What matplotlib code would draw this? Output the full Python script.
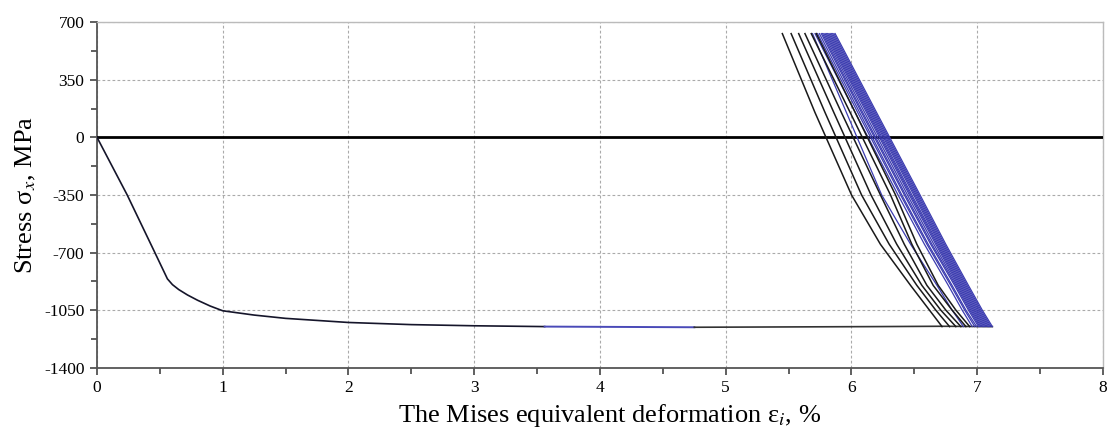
import matplotlib
matplotlib.use("Agg")
import matplotlib.pyplot as plt
from matplotlib.ticker import MultipleLocator

# monotonic loading branch (strain %, stress MPa)
load_strain = [0.0, 0.24, 0.46, 0.56, 0.60, 0.65, 0.72, 0.80, 0.90, 1.0, 1.25, 1.5, 2.0, 2.5, 3.0, 3.56]
load_stress = [0, -350, -700, -860, -895, -925, -958, -990, -1025, -1054, -1080, -1100, -1125, -1138, -1145, -1150]
plateau_blue_strain = [3.56, 4.75]
plateau_blue_stress = [-1150, -1154]
plateau_end_strain = [4.75, 5.5, 6.2, 6.72, 7.12]
plateau_end_stress = [-1154, -1152, -1150, -1148, -1150]

# cycle lines: strain at these stress levels, one row per cycle
cycle_stress = [630, 150, -350, -650, -900, -1050, -1150]
cycles_black = [
    [5.45, 5.71, 6.00, 6.23, 6.47, 6.62, 6.72],
    [5.52, 5.79, 6.08, 6.30, 6.52, 6.67, 6.78],
    [5.58, 5.86, 6.155, 6.36, 6.56, 6.71, 6.83],
    [5.63, 5.92, 6.23, 6.42, 6.60, 6.75, 6.87],
    [5.68, 5.99, 6.31, 6.48, 6.65, 6.80, 6.91],
    [5.72, 6.03, 6.35, 6.52, 6.69, 6.83, 6.94],
]
cycles_blue = [
    [5.69, 5.96, 6.24, 6.47, 6.68, 6.80, 6.89],
    [5.71, 6.03, 6.37, 6.58, 6.77, 6.88, 6.96],
    [5.73, 6.05, 6.39, 6.60, 6.79, 6.90, 6.98],
    [5.745, 6.065, 6.40, 6.61, 6.80, 6.91, 6.995],
    [5.76, 6.08, 6.42, 6.63, 6.82, 6.93, 7.01],
    [5.77, 6.09, 6.43, 6.64, 6.83, 6.94, 7.02],
    [5.78, 6.105, 6.445, 6.655, 6.84, 6.95, 7.03],
    [5.79, 6.12, 6.46, 6.67, 6.85, 6.96, 7.04],
    [5.80, 6.13, 6.47, 6.68, 6.86, 6.97, 7.05],
    [5.81, 6.14, 6.48, 6.69, 6.87, 6.98, 7.06],
    [5.82, 6.15, 6.495, 6.70, 6.88, 6.99, 7.07],
    [5.83, 6.16, 6.505, 6.71, 6.89, 7.00, 7.08],
    [5.84, 6.17, 6.515, 6.72, 6.90, 7.01, 7.09],
    [5.85, 6.18, 6.525, 6.73, 6.91, 7.02, 7.10],
    [5.86, 6.19, 6.535, 6.74, 6.92, 7.03, 7.11],
    [5.87, 6.20, 6.545, 6.75, 6.93, 7.04, 7.12],
]

plt.rcParams['font.family'] = ['Liberation Serif', 'DejaVu Serif']
plt.rcParams['mathtext.fontset'] = 'stix'
plt.rcParams['axes.unicode_minus'] = False

fig = plt.figure(figsize=(11.11, 4.42), dpi=100)
ax = fig.add_axes([0.0873, 0.168, 0.9055, 0.782])

ax.axhline(0, color='black', lw=2, zorder=3)

ax.plot(load_strain, load_stress, color='#15152a', lw=1.2, zorder=4)
ax.plot(plateau_blue_strain, plateau_blue_stress, color='#4a4ab8', lw=1.4, zorder=4)
ax.plot(plateau_end_strain, plateau_end_stress, color='#333333', lw=1.2, zorder=4)

for row in cycles_blue:
    ax.plot(row, cycle_stress, color='#3c3cb0', lw=0.9, zorder=5)
for row in cycles_black:
    ax.plot(row, cycle_stress, color='#1a1a1a', lw=1.1, zorder=6)

ax.set_xlim(0, 8)
ax.set_ylim(-1400, 700)
ax.xaxis.set_major_locator(MultipleLocator(1))
ax.xaxis.set_minor_locator(MultipleLocator(0.5))
ax.yaxis.set_major_locator(MultipleLocator(350))
ax.yaxis.set_minor_locator(MultipleLocator(175))
ax.tick_params(which='both', direction='out', color='#444444', width=1.2, labelsize=12.5)
ax.tick_params(which='major', length=5, pad=4)
ax.tick_params(which='minor', length=4)

ax.grid(True, which='major', color='#aaaaaa', ls=(0, (2.5, 2)), lw=0.8)

for side in ['left', 'bottom']:
    ax.spines[side].set_color('#555555')
    ax.spines[side].set_linewidth(1.3)
for side in ['top', 'right']:
    ax.spines[side].set_color('#bbbbbb')
    ax.spines[side].set_linewidth(1.0)

ax.set_ylabel(r'Stress σ$_{x}$, MPa', fontsize=19, labelpad=4)
ax.set_xlabel(r'The Mises equivalent deformation ε$_{i}$, %', fontsize=19, labelpad=11)
ax.xaxis.set_label_coords(0.51, -0.1)
ax.xaxis.label.set_va('top')

fig.savefig('out.png', dpi=100)
